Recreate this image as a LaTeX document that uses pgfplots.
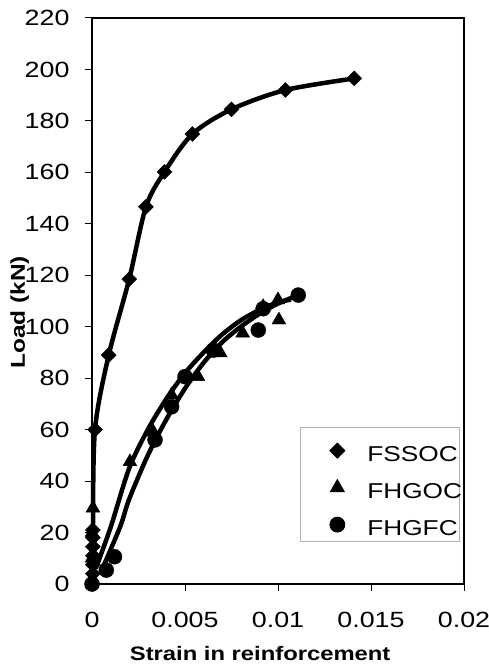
\documentclass[border=0pt]{standalone}
\usepackage{pgfplots}
\pgfplotsset{compat=1.18}
\usepackage{fontspec}
\setmainfont[FakeStretch=1.22]{Liberation Sans}

% measured data (strain, load in kN)
\pgfplotstableread{
x y
0.00005 0
0.00005 4
0.00005 7.5
0.00005 11
0.00005 14.5
0.00005 18
0.00005 21
0.00016 60
0.0009 89
0.0020 118.5
0.0029 146.6
0.0039 160.2
0.0054 174.9
0.0075 184.5
0.0104 192
0.0141 196.5
}\fssoc
\pgfplotstableread{
x y
0 0
0 10
0 20
0.00005 29.5
0.00204 47.5
0.0033 59
0.00428 73.5
0.0057 80.6
0.0069 89.8
0.0081 97.5
0.0092 107.8
0.0100 110.4
0.01005 102.6
}\fhgoc
\pgfplotstableread{
x y
0 0
0.00077 5.4
0.00121 10.6
0.00339 56
0.00428 68.9
0.0050 80.6
0.00652 90.9
0.00894 98.7
0.0092 107
0.01109 112.3
}\fhgfc
% trend curves
\pgfplotstableread{
x y
0.0002 6
0.0010 22
0.0020 45
0.0030 60
0.0040 72
0.0050 82
0.0060 90
0.0070 97
0.0080 102.5
0.0090 106.5
0.0100 109.5
0.0107 110.5
}\fhgoccurve
\pgfplotstableread{
x y
0.0005 5
0.0015 22
0.0020 33
0.0030 50
0.0040 64
0.0050 76
0.0060 86
0.0070 94
0.0080 100
0.0090 105
0.0100 109
0.0110 112
}\fhgfccurve

\begin{document}
\begin{tikzpicture}
\path[use as bounding box] (-92pt,-82pt) rectangle (397pt,584pt);
\begin{axis}[
  scale only axis,
  width=372pt, height=566pt,
  xmin=0, xmax=0.02,
  ymin=0, ymax=220,
  xtick={0,0.005,0.01,0.015,0.02},
  xticklabels={0,0.005,0.01,0.015,0.02},
  scaled x ticks=false,
  ytick={0,20,...,220},
  tick align=outside,
  major tick length=7pt,
  tick style={black, line width=1pt},
  xtick pos=bottom, ytick pos=left,
  axis line style={line width=1.5pt, black},
  /pgf/number format/assume math mode=true,
  ticklabel style={font=\fontsize{22}{26}\selectfont},
  yticklabel style={xshift=-12pt},
  xticklabel style={yshift=-18pt},
  xlabel={\bfseries Strain in reinforcement},
  ylabel={\bfseries Load (kN)},
  every axis x label/.style={at={(axis description cs:0.452,0)}, anchor=base, yshift=-76pt, font=\fontsize{19.5}{24}\selectfont},
  every axis y label/.style={at={(axis description cs:0,0.48)}, rotate=90, anchor=base, yshift=67pt, font=\fontsize{20}{24}\selectfont},
  clip=false,
  legend style={at={(0.559,0.277)}, anchor=north west, draw=gray!60, line width=0.8pt,
    inner xsep=0pt, inner ysep=6pt, row sep=9pt,
    nodes={inner sep=0pt, text height=28pt, text depth=0pt},
    font=\fontsize{21.5}{26}\selectfont},
  legend cell align=left,
  legend image code/.code={\path[draw=none] (0pt,0pt) (67pt,0pt); \draw[#1, only marks] plot coordinates {(37pt,-3pt)};},
]
\addplot[black, line width=4.5pt, smooth, tension=0.5, forget plot] table[x=x,y=y] {\fssoc};
\addplot[black, line width=4.5pt, smooth, forget plot] table[x=x,y=y] {\fhgoccurve};
\addplot[black, line width=4.5pt, smooth, forget plot] table[x=x,y=y] {\fhgfccurve};
\addplot[only marks, mark=square*, mark size=5.3pt, mark options={rotate=45, black, fill=black}] table[x=x,y=y] {\fssoc};
\addlegendentry{\makebox[92pt][l]{FSSOC}}
\addplot[only marks, mark=triangle*, mark size=8pt, mark options={black, fill=black}] table[x=x,y=y] {\fhgoc};
\addlegendentry{\makebox[92pt][l]{FHGOC}}
\addplot[only marks, mark=*, mark size=7.5pt, mark options={black, fill=black}] table[x=x,y=y] {\fhgfc};
\addlegendentry{\makebox[92pt][l]{FHGFC}}
\end{axis}
\end{tikzpicture}
\end{document}
